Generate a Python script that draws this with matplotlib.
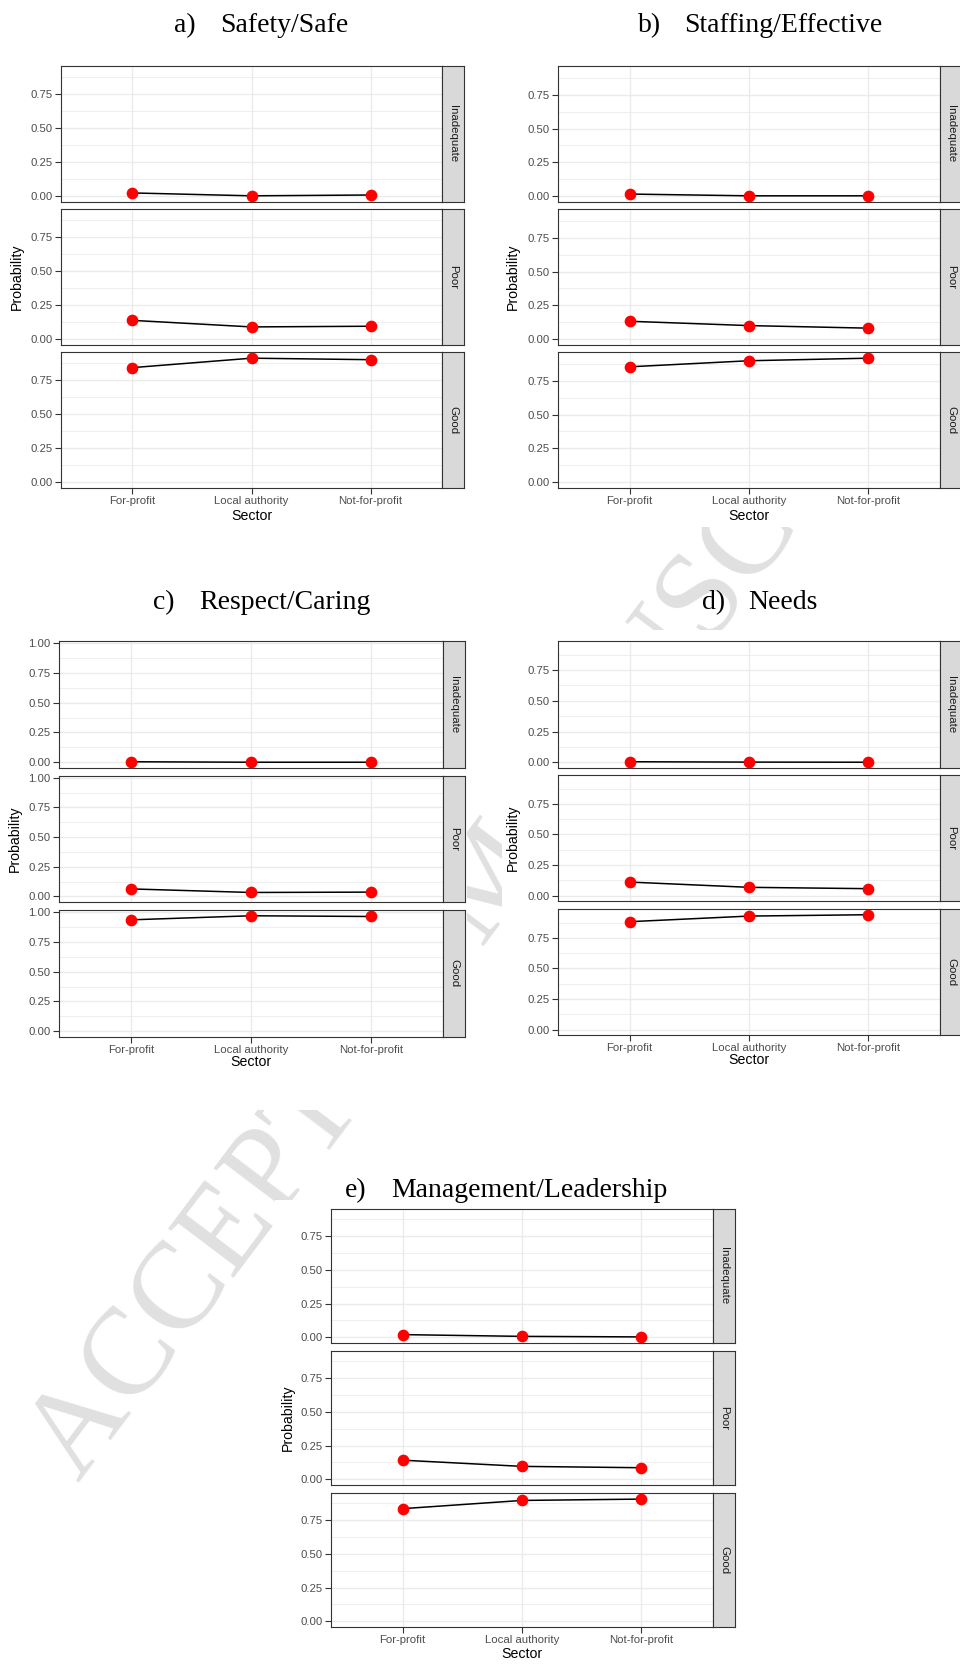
import numpy as np
import matplotlib.pyplot as plt
from matplotlib.patches import Rectangle
from matplotlib.ticker import MultipleLocator, FormatStrFormatter

plt.rcParams['font.family'] = ['Liberation Sans', 'DejaVu Sans']

# data
sectors = ["For-profit", "Local authority", "Not-for-profit"]
ratings = ["Inadequate", "Poor", "Good"]

safe_inadequate = [0.024, 0.003, 0.009]
safe_poor = [0.138, 0.090, 0.095]
safe_good = [0.838, 0.907, 0.896]

effective_inadequate = [0.015, 0.002, 0.002]
effective_poor = [0.132, 0.100, 0.081]
effective_good = [0.854, 0.899, 0.918]

caring_inadequate = [0.005, 0.001, 0.001]
caring_poor = [0.063, 0.033, 0.036]
caring_good = [0.933, 0.967, 0.961]

needs_inadequate = [0.006, 0.003, 0.002]
needs_poor = [0.110, 0.067, 0.056]
needs_good = [0.882, 0.928, 0.939]

leadership_inadequate = [0.020, 0.007, 0.003]
leadership_poor = [0.142, 0.096, 0.086]
leadership_good = [0.836, 0.897, 0.907]

letters = ["a)", "b)", "c)", "d)", "e)"]
titles = ["Safety/Safe", "Staffing/Effective", "Respect/Caring", "Needs",
          "Management/Leadership"]

W, H = 960, 1666
fig = plt.figure(figsize=(W / 100, H / 100), dpi=100)


def fx(x):
    return x / W


def fy(y):
    return 1 - y / H


def add_px_axes(x0, y0, x1, y1):
    return fig.add_axes([fx(x0), fy(y1), (x1 - x0) / W, (y1 - y0) / H])


# layout of each figure block, in pixels
layouts = [
    dict(x0=61, x1=442, facets=[(66, 202), (209, 345), (352, 488)],
         ylab_x=17, xlab_y=516, title_x=174, title_y=32, back=(0, 45, 472, 527)),
    dict(x0=558, x1=940, facets=[(66, 202), (209, 345), (352, 488)],
         ylab_x=513, xlab_y=516, title_x=638, title_y=32, back=(502, 45, 960, 527)),
    dict(x0=59, x1=443, facets=[(641, 768), (776, 902), (910, 1037)],
         ylab_x=15, xlab_y=1062, title_x=153, title_y=609, back=(0, 625, 467, 1110)),
    dict(x0=558, x1=940, facets=[(641, 768), (775, 901), (909, 1035)],
         ylab_x=513, xlab_y=1060, title_x=702, title_y=609, back=(502, 630, 960, 1100)),
    dict(x0=331, x1=713, facets=[(1209, 1343), (1351, 1485), (1493, 1627)],
         ylab_x=288, xlab_y=1654, title_x=345, title_y=1197, back=(275, 1200, 750, 1666)),
]

# faint watermark behind the figure images
fig.text(fx(497), fy(880), "ACCEPTED MANUSCRIPT", rotation=53, ha='center', va='center',
         rotation_mode='anchor', fontsize=89, family='Liberation Serif',
         color='#e0e0e0', zorder=-3)


def draw_panel(lay, letter, title, series):
    x0, x1 = lay['x0'], lay['x1']
    strip_w = 22
    bx0, by0, bx1, by1 = lay['back']
    fig.add_artist(Rectangle((fx(bx0), fy(by1)), (bx1 - bx0) / W, (by1 - by0) / H,
                             transform=fig.transFigure, facecolor='white',
                             edgecolor='none', zorder=-2))
    lo = min(min(s) for s in series)
    hi = max(max(s) for s in series)
    pad = 0.05 * (hi - lo)
    xpos = np.arange(len(sectors))
    for i, ((t, b), rating, vals) in enumerate(zip(lay['facets'], ratings, series)):
        ax = add_px_axes(x0, t, x1, b)
        ax.plot(xpos, vals, color='black', lw=1.1, zorder=3)
        ax.plot(xpos, vals, 'o', color='red', ms=7.4, zorder=4)
        ax.set_xlim(-0.6, len(sectors) - 0.4)
        ax.set_ylim(lo - pad, hi + pad)
        ax.yaxis.set_major_locator(MultipleLocator(0.25))
        ax.yaxis.set_minor_locator(MultipleLocator(0.125))
        ax.yaxis.set_major_formatter(FormatStrFormatter('%.2f'))
        ax.set_xticks(xpos)
        ax.grid(which='major', color='#ebebeb', lw=1.0)
        ax.grid(which='minor', axis='y', color='#ebebeb', lw=0.6)
        ax.set_axisbelow(True)
        ax.tick_params(which='minor', length=0)
        ax.tick_params(which='major', length=4, width=0.8, color='#333333',
                       labelsize=8.2, labelcolor='#4d4d4d', pad=2)
        for sp in ax.spines.values():
            sp.set_color('#333333')
            sp.set_linewidth(0.8)
        if i < 2:
            ax.tick_params(axis='x', length=0, labelbottom=False)
        else:
            ax.set_xticklabels(sectors)

        sax = add_px_axes(x1, t, x1 + strip_w, b)
        sax.set_facecolor('#d9d9d9')
        sax.set_xticks([])
        sax.set_yticks([])
        for sp in sax.spines.values():
            sp.set_color('#333333')
            sp.set_linewidth(0.8)
        sax.text(0.5, 0.5, rating, rotation=-90, ha='center', va='center',
                 fontsize=8.2, color='#1a1a1a', transform=sax.transAxes)

    top = lay['facets'][0][0]
    bottom = lay['facets'][-1][1]
    fig.text(fx(lay['ylab_x']), fy((top + bottom) / 2), "Probability", rotation=90,
             ha='center', va='center', fontsize=10.2)
    fig.text(fx((x0 + x1) / 2), fy(lay['xlab_y']), "Sector", ha='center', va='center',
             fontsize=10.2)
    fig.text(fx(lay['title_x']), fy(lay['title_y']), letter, ha='left', va='baseline',
             fontsize=20, family='Liberation Serif')
    fig.text(fx(lay['title_x'] + 46), fy(lay['title_y']), title, ha='left',
             va='baseline', fontsize=20, family='Liberation Serif')


all_series = [
    [safe_inadequate, safe_poor, safe_good],
    [effective_inadequate, effective_poor, effective_good],
    [caring_inadequate, caring_poor, caring_good],
    [needs_inadequate, needs_poor, needs_good],
    [leadership_inadequate, leadership_poor, leadership_good],
]

for lay, letter, title, series in zip(layouts, letters, titles, all_series):
    draw_panel(lay, letter, title, series)

fig.savefig("out.png", dpi=100)
